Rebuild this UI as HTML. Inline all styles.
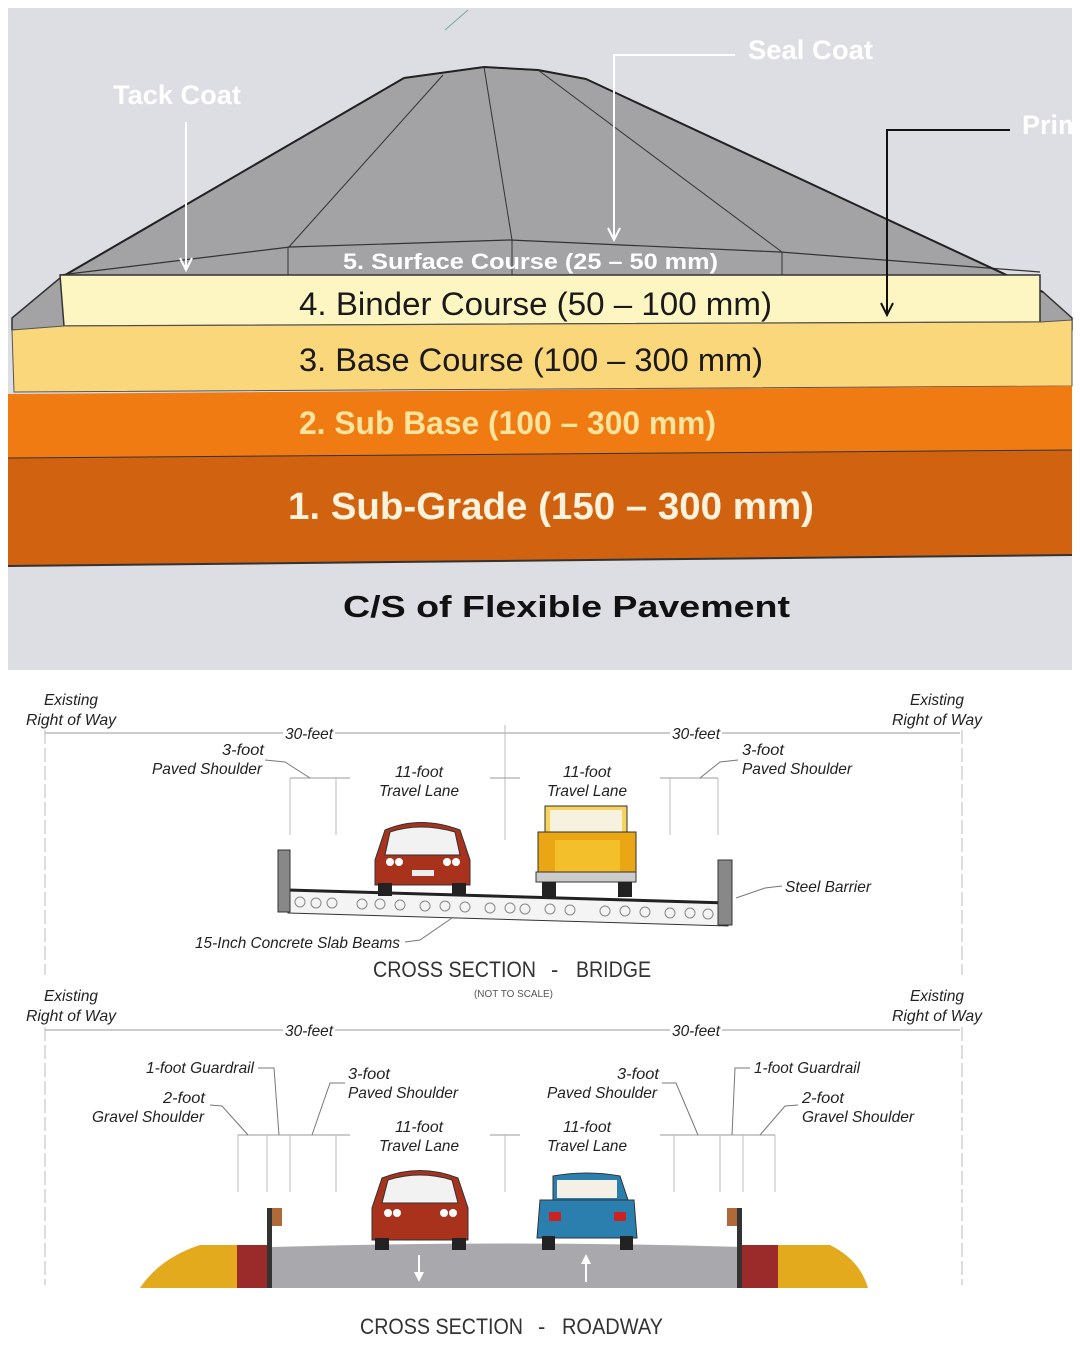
<!DOCTYPE html>
<html><head><meta charset="utf-8"><style>
html,body{margin:0;padding:0;background:#fff;}
svg{display:block;}
.it{font-family:"Liberation Sans",sans-serif;font-style:italic;font-size:16px;fill:#222;}
.ld{stroke:#777;stroke-width:1;fill:none;}
.dm{stroke:#999;stroke-width:1;fill:none;}
.vl{stroke:#bbb;stroke-width:1;fill:none;}
.cs{font-family:"Liberation Sans",sans-serif;font-size:22px;fill:#333;}
</style></head><body>
<svg width="1080" height="1350" viewBox="0 0 1080 1350" xmlns="http://www.w3.org/2000/svg">
<rect x="8" y="8" width="1064" height="662" fill="#dddde4"/>
<line x1="445" y1="30" x2="468" y2="10" stroke="#7a9" stroke-width="1"/>
<polygon points="12,330 12,318 60,278 404,78 484,67 538,70 586,79 1043,292 1072,318 1072,330" fill="#a3a3a6" stroke="#333" stroke-width="1.5"/>
<polyline points="60,275 290,247 510,240 780,252 1040,272" fill="none" stroke="#333" stroke-width="1.2"/>
<line x1="404" y1="78" x2="60" y2="278" stroke="#222" stroke-width="2"/>
<line x1="586" y1="79" x2="1043" y2="292" stroke="#222" stroke-width="2"/>
<polyline points="404,78 484,67 538,70 586,79" fill="none" stroke="#222" stroke-width="2"/>
<line x1="443" y1="75" x2="288" y2="248" stroke="#333" stroke-width="1"/>
<line x1="484" y1="67" x2="512" y2="240" stroke="#333" stroke-width="1"/>
<line x1="538" y1="70" x2="782" y2="252" stroke="#333" stroke-width="1"/>
<line x1="288" y1="248" x2="288" y2="275" stroke="#333" stroke-width="1"/>
<line x1="512" y1="240" x2="512" y2="275" stroke="#333" stroke-width="1"/>
<line x1="782" y1="252" x2="782" y2="275" stroke="#333" stroke-width="1"/>
<polygon points="60,275 1040,275 1040,322 64,326" fill="#fdf6c2" stroke="#333" stroke-width="1.5"/>
<polygon points="12,330 64,326 1040,322 1072,320 1072,386 14,392" fill="#fbd77c" stroke="#555" stroke-width="1"/>
<polygon points="8,394 1072,386 1072,450 8,458" fill="#f07b12"/>
<polygon points="8,458 1072,450 1072,555 8,566" fill="#d1620f"/>
<line x1="8" y1="566" x2="1072" y2="555" stroke="#333" stroke-width="2"/>
<line x1="8" y1="458" x2="1072" y2="450" stroke="#333" stroke-width="1"/>
<text x="113" y="104" font-family="Liberation Sans,sans-serif" font-weight="bold" font-size="27" fill="#fff" textLength="128" lengthAdjust="spacingAndGlyphs">Tack Coat</text>
<line x1="186" y1="122" x2="186" y2="268" stroke="#fff" stroke-width="2"/>
<polyline points="180,258 186,270 192,258" fill="none" stroke="#fff" stroke-width="2"/>
<text x="748" y="59" font-family="Liberation Sans,sans-serif" font-weight="bold" font-size="27" fill="#fff" textLength="125" lengthAdjust="spacingAndGlyphs">Seal Coat</text>
<polyline points="735,55 614,55 614,238" fill="none" stroke="#fff" stroke-width="2"/>
<polyline points="608,228 614,240 620,228" fill="none" stroke="#fff" stroke-width="2"/>
<text x="1022" y="134" font-family="Liberation Sans,sans-serif" font-weight="bold" font-size="27" fill="#fff" textLength="60" lengthAdjust="spacingAndGlyphs">Prim</text>
<polyline points="1010,130 887,130 887,314" fill="none" stroke="#111" stroke-width="2"/>
<polyline points="881,303 887,315 893,303" fill="none" stroke="#111" stroke-width="2"/>
<text x="343" y="269" font-family="Liberation Sans,sans-serif" font-weight="bold" font-size="22" fill="#fff" textLength="375" lengthAdjust="spacingAndGlyphs">5. Surface Course (25 – 50 mm)</text>
<text x="299" y="315" font-family="Liberation Sans,sans-serif" font-size="32" fill="#1a1a1a" textLength="473" lengthAdjust="spacingAndGlyphs">4. Binder Course (50 – 100 mm)</text>
<text x="299" y="371" font-family="Liberation Sans,sans-serif" font-size="32" fill="#1a1a1a" textLength="464" lengthAdjust="spacingAndGlyphs">3. Base Course (100 – 300 mm)</text>
<text x="299" y="434" font-family="Liberation Sans,sans-serif" font-weight="bold" font-size="32" fill="#fde49c" textLength="417" lengthAdjust="spacingAndGlyphs">2. Sub Base (100 – 300 mm)</text>
<text x="288" y="519" font-family="Liberation Sans,sans-serif" font-weight="bold" font-size="38" fill="#fdf2dc" textLength="526" lengthAdjust="spacingAndGlyphs">1. Sub-Grade (150 – 300 mm)</text>
<text x="343" y="617" font-family="Liberation Sans,sans-serif" font-weight="bold" font-size="31" fill="#111" textLength="447" lengthAdjust="spacingAndGlyphs">C/S of Flexible Pavement</text>

<text class="it" x="44" y="705" textLength="54" lengthAdjust="spacingAndGlyphs">Existing</text>
<text class="it" x="26" y="725" textLength="90" lengthAdjust="spacingAndGlyphs">Right of Way</text>
<text class="it" x="910" y="705" textLength="54" lengthAdjust="spacingAndGlyphs">Existing</text>
<text class="it" x="892" y="725" textLength="90" lengthAdjust="spacingAndGlyphs">Right of Way</text>
<line class="dm" x1="45" y1="733" x2="960" y2="733"/>
<rect x="283" y="724" width="52" height="18" fill="#fff"/><rect x="670" y="724" width="52" height="18" fill="#fff"/>
<text class="it" x="285" y="739" textLength="48" lengthAdjust="spacingAndGlyphs">30-feet</text>
<text class="it" x="672" y="739" textLength="48" lengthAdjust="spacingAndGlyphs">30-feet</text>
<line class="vl" x1="45" y1="730" x2="45" y2="975" stroke-dasharray="14,4"/>
<line class="vl" x1="962" y1="730" x2="962" y2="975" stroke-dasharray="14,4"/>
<line class="vl" x1="505" y1="725" x2="505" y2="840"/>
<line class="dm" x1="290" y1="778" x2="718" y2="778"/>
<rect x="350" y="770" width="140" height="14" fill="#fff"/><rect x="520" y="770" width="140" height="14" fill="#fff"/>
<g class="vl"><line x1="290" y1="778" x2="290" y2="835"/><line x1="336" y1="778" x2="336" y2="835"/><line x1="670" y1="778" x2="670" y2="835"/><line x1="718" y1="778" x2="718" y2="835"/></g>
<text class="it" x="222" y="755" textLength="42" lengthAdjust="spacingAndGlyphs">3-foot</text>
<text class="it" x="152" y="774" textLength="110" lengthAdjust="spacingAndGlyphs">Paved Shoulder</text>
<polyline class="ld" points="265,760 285,762 310,778"/>
<text class="it" x="742" y="755" textLength="42" lengthAdjust="spacingAndGlyphs">3-foot</text>
<text class="it" x="742" y="774" textLength="110" lengthAdjust="spacingAndGlyphs">Paved Shoulder</text>
<polyline class="ld" points="738,760 720,762 700,778"/>
<text class="it" x="395" y="777" textLength="48" lengthAdjust="spacingAndGlyphs">11-foot</text>
<text class="it" x="379" y="796" textLength="80" lengthAdjust="spacingAndGlyphs">Travel Lane</text>
<text class="it" x="563" y="777" textLength="48" lengthAdjust="spacingAndGlyphs">11-foot</text>
<text class="it" x="547" y="796" textLength="80" lengthAdjust="spacingAndGlyphs">Travel Lane</text>
<polygon points="288,890 728,903 728,926 288,913" fill="#f4f4f4" stroke="#333" stroke-width="1"/>
<line x1="288" y1="890" x2="728" y2="903" stroke="#222" stroke-width="3"/>
<g fill="none" stroke="#888" stroke-width="1">
<circle cx="300" cy="902" r="5"/><circle cx="316" cy="903" r="5"/><circle cx="332" cy="903" r="5"/><circle cx="362" cy="904" r="5"/><circle cx="380" cy="904" r="5"/><circle cx="400" cy="905" r="5"/><circle cx="425" cy="906" r="5"/><circle cx="445" cy="906" r="5"/><circle cx="465" cy="907" r="5"/><circle cx="490" cy="908" r="5"/><circle cx="510" cy="908" r="5"/><circle cx="525" cy="909" r="5"/><circle cx="550" cy="909" r="5"/><circle cx="570" cy="910" r="5"/><circle cx="605" cy="911" r="5"/><circle cx="625" cy="911" r="5"/><circle cx="645" cy="912" r="5"/><circle cx="670" cy="913" r="5"/><circle cx="690" cy="913" r="5"/><circle cx="708" cy="914" r="5"/>
</g>
<rect x="278" y="850" width="12" height="62" fill="#888" stroke="#333"/>
<rect x="718" y="860" width="14" height="65" fill="#888" stroke="#333"/>
<text class="it" x="785" y="892" textLength="86" lengthAdjust="spacingAndGlyphs">Steel Barrier</text>
<polyline class="ld" points="782,886 765,888 736,898"/>
<text class="it" x="195" y="948" textLength="205" lengthAdjust="spacingAndGlyphs">15-Inch Concrete Slab Beams</text>
<polyline class="ld" points="405,942 420,940 452,918"/>
<g>
<path d="M385,830 Q420,815 460,830 L470,860 L470,885 L375,885 L375,860 Z" fill="#a8321c" stroke="#333"/>
<path d="M390,832 Q420,822 455,832 L460,855 L385,855 Z" fill="#f2f2f2" stroke="#333"/>
<rect x="378" y="883" width="14" height="13" fill="#222"/><rect x="452" y="883" width="14" height="13" fill="#222"/>
<circle cx="390" cy="862" r="4" fill="#fff"/><circle cx="399" cy="862" r="4" fill="#fff"/><circle cx="447" cy="862" r="4" fill="#fff"/><circle cx="456" cy="862" r="4" fill="#fff"/>
<rect x="412" y="870" width="22" height="6" fill="#eee"/>
</g>
<g>
<rect x="545" y="806" width="82" height="30" fill="#f6d35a" stroke="#333"/>
<rect x="550" y="810" width="72" height="22" fill="#f7f2df"/>
<rect x="538" y="832" width="98" height="50" fill="#eaa615" stroke="#333"/>
<rect x="555" y="840" width="65" height="35" fill="#f3bf2a"/>
<rect x="536" y="872" width="100" height="10" fill="#ccc" stroke="#333"/>
<rect x="542" y="882" width="14" height="15" fill="#222"/><rect x="618" y="882" width="14" height="15" fill="#222"/>
</g>
<text class="cs" x="373" y="977" textLength="163" lengthAdjust="spacingAndGlyphs">CROSS SECTION</text>
<text class="cs" x="551" y="977">-</text>
<text class="cs" x="576" y="977" textLength="75" lengthAdjust="spacingAndGlyphs">BRIDGE</text>
<text x="474" y="997" font-family="Liberation Sans,sans-serif" font-size="10" fill="#555" textLength="79" lengthAdjust="spacingAndGlyphs">(NOT TO SCALE)</text>

<text class="it" x="44" y="1001" textLength="54" lengthAdjust="spacingAndGlyphs">Existing</text>
<text class="it" x="26" y="1021" textLength="90" lengthAdjust="spacingAndGlyphs">Right of Way</text>
<text class="it" x="910" y="1001" textLength="54" lengthAdjust="spacingAndGlyphs">Existing</text>
<text class="it" x="892" y="1021" textLength="90" lengthAdjust="spacingAndGlyphs">Right of Way</text>
<line class="dm" x1="45" y1="1030" x2="960" y2="1030"/>
<rect x="283" y="1021" width="52" height="18" fill="#fff"/><rect x="670" y="1021" width="52" height="18" fill="#fff"/>
<text class="it" x="285" y="1036" textLength="48" lengthAdjust="spacingAndGlyphs">30-feet</text>
<text class="it" x="672" y="1036" textLength="48" lengthAdjust="spacingAndGlyphs">30-feet</text>
<line class="vl" x1="45" y1="1027" x2="45" y2="1285" stroke-dasharray="14,4"/>
<line class="vl" x1="962" y1="1027" x2="962" y2="1285" stroke-dasharray="14,4"/>
<line class="dm" x1="238" y1="1135" x2="775" y2="1135"/>
<rect x="350" y="1128" width="140" height="14" fill="#fff"/><rect x="520" y="1128" width="140" height="14" fill="#fff"/>
<g class="vl">
<line x1="238" y1="1135" x2="238" y2="1192"/><line x1="267" y1="1135" x2="267" y2="1192"/><line x1="290" y1="1135" x2="290" y2="1192"/><line x1="336" y1="1135" x2="336" y2="1192"/><line x1="505" y1="1135" x2="505" y2="1192"/><line x1="674" y1="1135" x2="674" y2="1192"/><line x1="720" y1="1135" x2="720" y2="1192"/><line x1="743" y1="1135" x2="743" y2="1192"/><line x1="775" y1="1135" x2="775" y2="1192"/>
</g>
<text class="it" x="146" y="1073" textLength="108" lengthAdjust="spacingAndGlyphs">1-foot Guardrail</text>
<polyline class="ld" points="258,1068 274,1068 279,1135"/>
<text class="it" x="163" y="1103" textLength="42" lengthAdjust="spacingAndGlyphs">2-foot</text>
<text class="it" x="92" y="1122" textLength="112" lengthAdjust="spacingAndGlyphs">Gravel Shoulder</text>
<polyline class="ld" points="210,1105 222,1106 248,1135"/>
<text class="it" x="348" y="1079" textLength="42" lengthAdjust="spacingAndGlyphs">3-foot</text>
<text class="it" x="348" y="1098" textLength="110" lengthAdjust="spacingAndGlyphs">Paved Shoulder</text>
<polyline class="ld" points="345,1083 330,1083 312,1135"/>
<text class="it" x="617" y="1079" textLength="42" lengthAdjust="spacingAndGlyphs">3-foot</text>
<text class="it" x="547" y="1098" textLength="110" lengthAdjust="spacingAndGlyphs">Paved Shoulder</text>
<polyline class="ld" points="662,1083 676,1083 698,1135"/>
<text class="it" x="754" y="1073" textLength="106" lengthAdjust="spacingAndGlyphs">1-foot Guardrail</text>
<polyline class="ld" points="750,1068 735,1068 732,1135"/>
<text class="it" x="802" y="1103" textLength="42" lengthAdjust="spacingAndGlyphs">2-foot</text>
<text class="it" x="802" y="1122" textLength="112" lengthAdjust="spacingAndGlyphs">Gravel Shoulder</text>
<polyline class="ld" points="798,1105 785,1106 760,1135"/>
<text class="it" x="395" y="1132" textLength="48" lengthAdjust="spacingAndGlyphs">11-foot</text>
<text class="it" x="379" y="1151" textLength="80" lengthAdjust="spacingAndGlyphs">Travel Lane</text>
<text class="it" x="563" y="1132" textLength="48" lengthAdjust="spacingAndGlyphs">11-foot</text>
<text class="it" x="547" y="1151" textLength="80" lengthAdjust="spacingAndGlyphs">Travel Lane</text>
<path d="M272,1247 Q505,1240 742,1247 L742,1288 L272,1288 Z" fill="#a9a9ad"/>
<rect x="237" y="1245" width="35" height="43" fill="#9b2a2a"/>
<rect x="742" y="1245" width="36" height="43" fill="#9b2a2a"/>
<path d="M140,1288 Q160,1258 200,1245 L237,1245 L237,1288 Z" fill="#e3aa1e"/>
<path d="M778,1245 L830,1245 Q860,1260 868,1288 L778,1288 Z" fill="#e3aa1e"/>
<rect x="267" y="1208" width="5" height="80" fill="#333"/>
<rect x="272" y="1208" width="10" height="18" fill="#b06a3a"/>
<rect x="737" y="1208" width="5" height="80" fill="#333"/>
<rect x="727" y="1208" width="10" height="18" fill="#b06a3a"/>
<line x1="419" y1="1255" x2="419" y2="1278" stroke="#fff" stroke-width="2"/><polygon points="414,1272 424,1272 419,1282" fill="#fff"/>
<line x1="586" y1="1258" x2="586" y2="1282" stroke="#fff" stroke-width="2"/><polygon points="581,1264 591,1264 586,1254" fill="#fff"/>
<g>
<path d="M382,1178 Q420,1163 458,1178 L468,1208 L468,1240 L372,1240 L372,1208 Z" fill="#a8321c" stroke="#333"/>
<path d="M388,1180 Q420,1170 452,1180 L458,1203 L382,1203 Z" fill="#f2f2f2" stroke="#333"/>
<rect x="375" y="1238" width="14" height="12" fill="#222"/><rect x="452" y="1238" width="14" height="12" fill="#222"/>
<circle cx="388" cy="1213" r="4" fill="#fff"/><circle cx="397" cy="1213" r="4" fill="#fff"/><circle cx="444" cy="1213" r="4" fill="#fff"/><circle cx="453" cy="1213" r="4" fill="#fff"/>
</g>
<g>
<path d="M553,1176 Q587,1170 620,1176 L628,1200 L553,1200 Z" fill="#2b7fae" stroke="#333"/>
<rect x="557" y="1180" width="60" height="18" fill="#f5f0e6"/>
<path d="M540,1200 L634,1200 L637,1238 L537,1238 Z" fill="#2b7fae" stroke="#333"/>
<rect x="549" y="1212" width="12" height="9" fill="#c22"/><rect x="614" y="1212" width="12" height="9" fill="#c22"/>
<rect x="542" y="1236" width="13" height="14" fill="#222"/><rect x="620" y="1236" width="13" height="14" fill="#222"/>
</g>
<text class="cs" x="360" y="1334" textLength="163" lengthAdjust="spacingAndGlyphs">CROSS SECTION</text>
<text class="cs" x="538" y="1334">-</text>
<text class="cs" x="562" y="1334" textLength="101" lengthAdjust="spacingAndGlyphs">ROADWAY</text>
</svg>
</body></html>
